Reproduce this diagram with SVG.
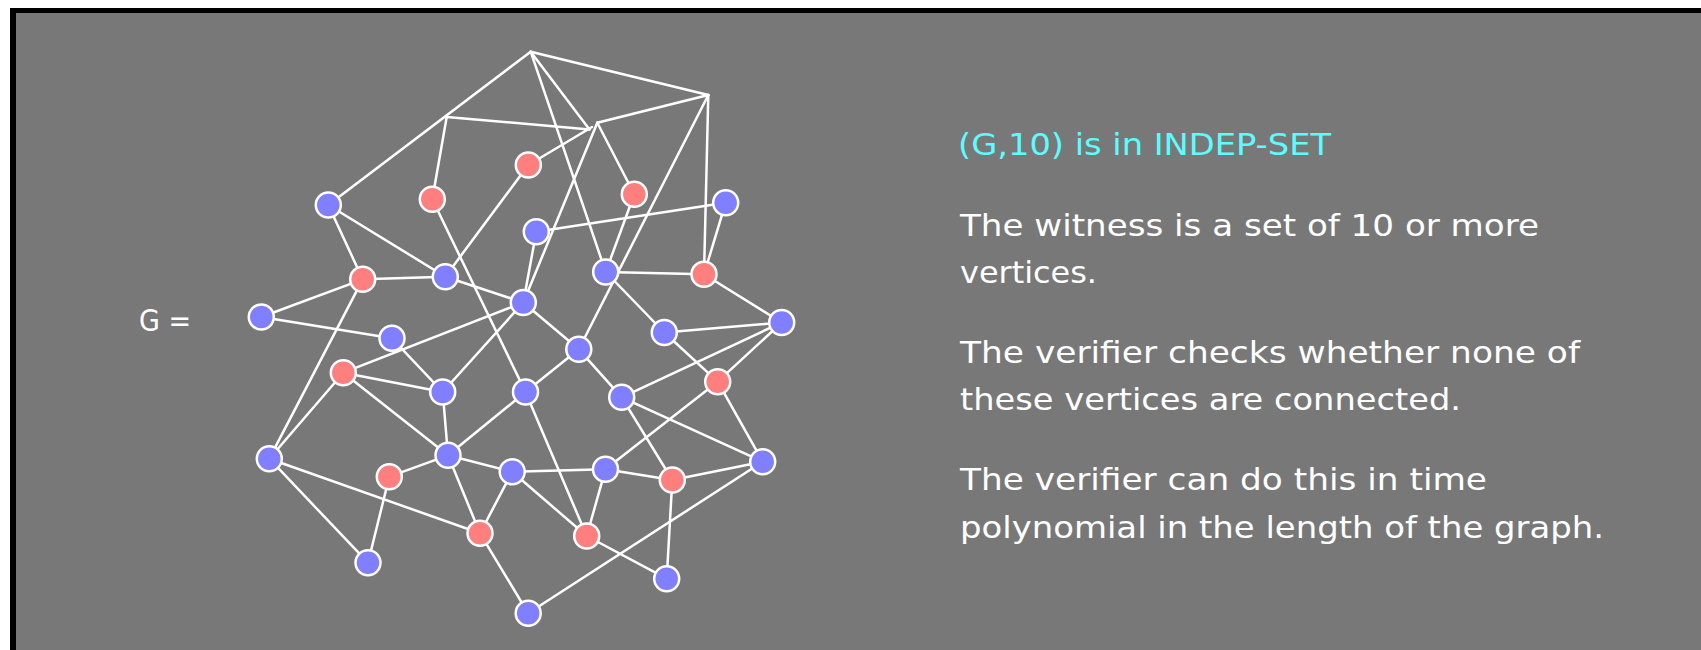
<svg xmlns="http://www.w3.org/2000/svg" width="1701" height="650" viewBox="0 0 1701 650">
  <style>
    .edge { stroke: #ffffff; stroke-width: 2.5; stroke-linecap: round; fill: none; }
    .blue { fill: #7f7fff; stroke: #ffffff; stroke-width: 2.5; }
    .red  { fill: #ff7f7f; stroke: #ffffff; stroke-width: 2.5; }
    .txt  { font-family: "DejaVu Sans", "Liberation Sans", sans-serif; font-size: 31px; fill: #ffffff; }
    .head { fill: #5cfcff; }
  </style>

  <!-- page and frame -->
  <rect x="0" y="0" width="1701" height="650" fill="#ffffff"/>
  <rect x="10" y="8" width="1691" height="642" fill="#000000"/>
  <rect x="16" y="13" width="1685" height="637" fill="#787878"/>

  <text class="txt" x="139" y="331" font-size="24" textLength="52" lengthAdjust="spacingAndGlyphs">G =</text>

  <!-- edges -->
  <g id="edges" class="edge">
    <line x1="530.7" y1="51.7" x2="708.3" y2="95"/>
    <line x1="530.7" y1="51.7" x2="328.3" y2="205"/>
    <line x1="446.7" y1="117" x2="589.5" y2="129.5"/>
    <line x1="446.7" y1="117" x2="432.3" y2="199.3"/>
    <line x1="530.7" y1="51.7" x2="589.5" y2="129.5"/>
    <line x1="530.7" y1="51.7" x2="605.7" y2="272"/>
    <line x1="597.3" y1="122.7" x2="708.3" y2="95"/>
    <line x1="528.3" y1="165" x2="592" y2="127"/>
    <line x1="597.3" y1="122.7" x2="523.3" y2="302.5"/>
    <line x1="597.3" y1="122.7" x2="634.3" y2="194.3"/>
    <line x1="708.3" y1="95" x2="704" y2="274.3"/>
    <line x1="708.3" y1="95" x2="578.8" y2="349.3"/>
    <line x1="328.3" y1="205" x2="362.7" y2="279.3"/>
    <line x1="328.3" y1="205" x2="445.3" y2="276.7"/>
    <line x1="432.3" y1="199.3" x2="525.5" y2="392"/>
    <line x1="528.3" y1="165" x2="445.3" y2="276.7"/>
    <line x1="536.3" y1="231.7" x2="725.7" y2="202.7"/>
    <line x1="536.3" y1="231.7" x2="523.3" y2="302.5"/>
    <line x1="362.7" y1="279.3" x2="445.3" y2="276.7"/>
    <line x1="362.7" y1="279.3" x2="261.3" y2="317"/>
    <line x1="362.7" y1="279.3" x2="269.3" y2="458.7"/>
    <line x1="445.3" y1="276.7" x2="523.3" y2="302.5"/>
    <line x1="261.3" y1="317" x2="392" y2="338.3"/>
    <line x1="343.3" y1="372.7" x2="523.3" y2="302.5"/>
    <line x1="523.3" y1="302.5" x2="442.7" y2="392"/>
    <line x1="523.3" y1="302.5" x2="578.8" y2="349.3"/>
    <line x1="605.7" y1="272" x2="634.3" y2="194.3"/>
    <line x1="605.7" y1="272" x2="704" y2="274.3"/>
    <line x1="605.7" y1="272" x2="664.3" y2="332.5"/>
    <line x1="725.7" y1="202.7" x2="704" y2="274.3"/>
    <line x1="704" y1="274.3" x2="781.7" y2="322.5"/>
    <line x1="781.7" y1="322.5" x2="664.3" y2="332.5"/>
    <line x1="781.7" y1="322.5" x2="621.7" y2="397.3"/>
    <line x1="781.7" y1="322.5" x2="717.7" y2="381.7"/>
    <line x1="664.3" y1="332.5" x2="717.7" y2="381.7"/>
    <line x1="717.7" y1="381.7" x2="605.5" y2="469.3"/>
    <line x1="717.7" y1="381.7" x2="762.7" y2="461.7"/>
    <line x1="621.7" y1="397.3" x2="762.7" y2="461.7"/>
    <line x1="621.7" y1="397.3" x2="672.3" y2="480"/>
    <line x1="578.8" y1="349.3" x2="621.7" y2="397.3"/>
    <line x1="578.8" y1="349.3" x2="525.5" y2="392"/>
    <line x1="525.5" y1="392" x2="448" y2="455.3"/>
    <line x1="525.5" y1="392" x2="586.7" y2="536"/>
    <line x1="343.3" y1="372.7" x2="442.7" y2="392"/>
    <line x1="343.3" y1="372.7" x2="448" y2="455.3"/>
    <line x1="343.3" y1="372.7" x2="269.3" y2="458.7"/>
    <line x1="392" y1="338.3" x2="442.7" y2="392"/>
    <line x1="442.7" y1="392" x2="448" y2="455.3"/>
    <line x1="448" y1="455.3" x2="389.3" y2="476.7"/>
    <line x1="448" y1="455.3" x2="512.2" y2="471.8"/>
    <line x1="448" y1="455.3" x2="480" y2="533.3"/>
    <line x1="512.2" y1="471.8" x2="605.5" y2="469.3"/>
    <line x1="512.2" y1="471.8" x2="480" y2="533.3"/>
    <line x1="512.2" y1="471.8" x2="586.7" y2="536"/>
    <line x1="605.5" y1="469.3" x2="586.7" y2="536"/>
    <line x1="605.5" y1="469.3" x2="672.3" y2="480"/>
    <line x1="762.7" y1="461.7" x2="672.3" y2="480"/>
    <line x1="762.7" y1="461.7" x2="528.2" y2="613.3"/>
    <line x1="672.3" y1="480" x2="666.7" y2="578.7"/>
    <line x1="586.7" y1="536" x2="666.7" y2="578.7"/>
    <line x1="480" y1="533.3" x2="528.2" y2="613.3"/>
    <line x1="269.3" y1="458.7" x2="480" y2="533.3"/>
    <line x1="269.3" y1="458.7" x2="368" y2="562.7"/>
    <line x1="389.3" y1="476.7" x2="368" y2="562.7"/>
  </g>

  <!-- vertices -->
  <g id="n1"><circle class="blue" cx="328.3" cy="205" r="12.5"/></g>
  <g id="n2"><circle class="red" cx="432.3" cy="199.3" r="12.5"/></g>
  <g id="n3"><circle class="red" cx="528.3" cy="165" r="12.5"/></g>
  <g id="n4"><circle class="blue" cx="536.3" cy="231.7" r="12.5"/></g>
  <g id="n5"><circle class="red" cx="362.7" cy="279.3" r="12.5"/></g>
  <g id="n6"><circle class="blue" cx="445.3" cy="276.7" r="12.5"/></g>
  <g id="n7"><circle class="blue" cx="523.3" cy="302.5" r="12.5"/></g>
  <g id="n8"><circle class="blue" cx="261.3" cy="317" r="12.5"/></g>
  <g id="n9"><circle class="blue" cx="605.7" cy="272" r="12.5"/></g>
  <g id="n10"><circle class="blue" cx="392" cy="338.3" r="12.5"/></g>
  <g id="n11"><circle class="red" cx="634.3" cy="194.3" r="12.5"/></g>
  <g id="n12"><circle class="blue" cx="725.7" cy="202.7" r="12.5"/></g>
  <g id="n13"><circle class="red" cx="704" cy="274.3" r="12.5"/></g>
  <g id="n14"><circle class="blue" cx="781.7" cy="322.5" r="12.5"/></g>
  <g id="n15"><circle class="blue" cx="664.3" cy="332.5" r="12.5"/></g>
  <g id="n16"><circle class="red" cx="343.3" cy="372.7" r="12.5"/></g>
  <g id="n17"><circle class="blue" cx="442.7" cy="392" r="12.5"/></g>
  <g id="n18"><circle class="blue" cx="525.5" cy="392" r="12.5"/></g>
  <g id="n19"><circle class="blue" cx="578.8" cy="349.3" r="12.5"/></g>
  <g id="n20"><circle class="blue" cx="269.3" cy="458.7" r="12.5"/></g>
  <g id="n21"><circle class="blue" cx="448" cy="455.3" r="12.5"/></g>
  <g id="n22"><circle class="red" cx="389.3" cy="476.7" r="12.5"/></g>
  <g id="n23"><circle class="blue" cx="512.2" cy="471.8" r="12.5"/></g>
  <g id="n24"><circle class="blue" cx="605.5" cy="469.3" r="12.5"/></g>
  <g id="n25"><circle class="red" cx="480" cy="533.3" r="12.5"/></g>
  <g id="n26"><circle class="red" cx="586.7" cy="536" r="12.5"/></g>
  <g id="n27"><circle class="blue" cx="368" cy="562.7" r="12.5"/></g>
  <g id="n28"><circle class="blue" cx="528.2" cy="613.3" r="12.5"/></g>
  <g id="n29"><circle class="red" cx="717.7" cy="381.7" r="12.5"/></g>
  <g id="n30"><circle class="blue" cx="621.7" cy="397.3" r="12.5"/></g>
  <g id="n31"><circle class="blue" cx="762.7" cy="461.7" r="12.5"/></g>
  <g id="n32"><circle class="red" cx="672.3" cy="480" r="12.5"/></g>
  <g id="n33"><circle class="blue" cx="666.7" cy="578.7" r="12.5"/></g>

  <!-- explanation -->
  <g id="caption">
    <text class="txt head" x="958" y="154.5" textLength="373" lengthAdjust="spacingAndGlyphs">(G,10) is in INDEP-SET</text>
    <text class="txt" x="960" y="236" textLength="579" lengthAdjust="spacingAndGlyphs">The witness is a set of 10 or more</text>
    <text class="txt" x="960" y="282.7" textLength="137" lengthAdjust="spacingAndGlyphs">vertices.</text>
    <text class="txt" x="960" y="362.5" textLength="620" lengthAdjust="spacingAndGlyphs">The verifier checks whether none of</text>
    <text class="txt" x="960" y="410" textLength="501" lengthAdjust="spacingAndGlyphs">these vertices are connected.</text>
    <text class="txt" x="960" y="490" textLength="527" lengthAdjust="spacingAndGlyphs">The verifier can do this in time</text>
    <text class="txt" x="960" y="538.3" textLength="644" lengthAdjust="spacingAndGlyphs">polynomial in the length of the graph.</text>
  </g>
</svg>
